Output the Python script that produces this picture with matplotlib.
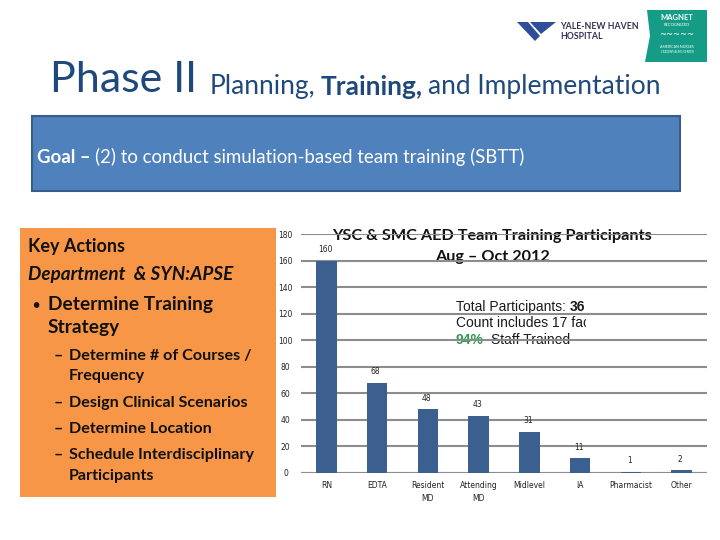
import matplotlib
matplotlib.use('Agg')
import matplotlib.pyplot as plt
from matplotlib.patches import Rectangle, Polygon
from matplotlib.transforms import Bbox, TransformedBbox

# ---------------- data ----------------
categories = ['RN', 'EDTA', 'Resident\nMD', 'Attending\nMD', 'Midlevel', 'IA', 'Pharmacist', 'Other']
participants = [160, 68, 48, 43, 31, 11, 1, 2]
y_ticks = [0, 20, 40, 60, 80, 100, 120, 140, 160, 180]
chart_title = ['YSC & SMC AED Team Training Participants', 'Aug \u2013 Oct 2012']

W, H = 720, 540
fig = plt.figure(figsize=(7.2, 5.4), dpi=100)
fig.patch.set_facecolor('white')

# background axes in pixel coordinates
bg = fig.add_axes([0, 0, 1, 1], zorder=-1)
bg.set_xlim(0, W)
bg.set_ylim(H, 0)
bg.axis('off')

CAL = ['Lato', 'DejaVu Sans']
TITLE_C = '#1F497D'


def chain(x, y, pieces, **common):
    """pieces: list of (text, dict_of_props, gap_pts)"""
    arts = []
    first = True
    prev = None
    for txt, props, gap in pieces:
        kw = dict(common)
        kw.update(props)
        if first:
            t = bg.text(x, y, txt, ha='left', va='baseline', **kw)
            first = False
        else:
            t = bg.annotate(txt, xy=(1, 0), xycoords=prev, xytext=(gap, 0),
                            textcoords='offset points', ha='left', va='bottom', **kw)
        arts.append(t)
        prev = t
    return arts


# ---------------- slide title ----------------
chain(50, 92, [
    ('Phase II', dict(fontsize=31), 0),
    ('Planning,', dict(fontsize=19), 9),
    ('Training,', dict(fontsize=19, fontweight='bold'), 4),
    ('and Implementation', dict(fontsize=19), 4),
], family=CAL, color=TITLE_C)

# ---------------- logo ----------------
for pts in ([(517, 22), (528, 22), (540, 36), (535, 41)],
            [(530, 22), (556, 22), (541, 34)],
            [(533, 26), (545, 26), (545, 30)]):
    bg.add_patch(Polygon(pts, closed=True, facecolor='#2E4E9A', edgecolor='none'))
bg.text(560, 29, 'YALE-NEW HAVEN', fontsize=6.3, fontweight='bold', family=CAL,
        color='#333355', va='baseline')
bg.text(560, 39, 'HOSPITAL', fontsize=6.3, fontweight='bold', family=CAL,
        color='#333355', va='baseline')
bg.add_patch(Polygon([(647, 10), (707, 10), (707, 62), (645, 62), (650, 36)], closed=True,
                     facecolor='#159C86', edgecolor='none'))
bg.text(677, 18, 'MAGNET', fontsize=5.5, fontweight='bold', color='white', ha='center',
        va='center', family=CAL)
bg.text(677, 25, 'RECOGNIZED', fontsize=3, color='white', ha='center', va='center', family=CAL)
bg.text(677, 35, '~~~~~', fontsize=6, color='white', ha='center', va='center')
bg.text(677, 47, 'AMERICAN NURSES', fontsize=2.6, color='white', ha='center', va='center', family=CAL)
bg.text(677, 52, 'CREDENTIALING CENTER', fontsize=2, color='white', ha='center', va='center', family=CAL)

# ---------------- goal box ----------------
bg.add_patch(Rectangle((32, 116), 648, 75, facecolor='#4F81BD', edgecolor='#385D8A', lw=1.5))
chain(37, 163, [
    ('Goal \u2013', dict(fontweight='bold'), 0),
    ('(2) to conduct simulation-based team training (SBTT)', dict(), 3),
], family=CAL, color='white', fontsize=13.4)

# ---------------- orange box ----------------
bg.add_patch(Rectangle((20, 228), 256, 269, facecolor='#F79646', edgecolor='none'))
TXT = '#111111'
bg.text(28, 252, 'Key Actions', fontsize=13, fontweight='bold', family=CAL, color=TXT, va='baseline')
bg.text(28, 280, 'Department  & SYN:APSE', fontsize=13.6, style='italic', fontweight='bold',
        family=CAL, color=TXT, va='baseline')
bg.text(32, 309, '\u2022', fontsize=9, fontweight='bold', family=CAL, color=TXT, va='baseline')
bg.text(48, 310, 'Determine Training', fontsize=13.8, fontweight='bold', family=CAL, color=TXT, va='baseline')
bg.text(48, 333, 'Strategy', fontsize=13.8, fontweight='bold', family=CAL, color=TXT, va='baseline')
sub = [(360, '\u2013', 'Determine # of Courses /'), (380, None, 'Frequency'),
       (407, '\u2013', 'Design Clinical Scenarios'), (433, '\u2013', 'Determine Location'),
       (459, '\u2013', 'Schedule Interdisciplinary'), (480, None, 'Participants')]
for yb, dash, s in sub:
    if dash:
        bg.text(54, yb, dash, fontsize=11.6, fontweight='bold', family=CAL, color=TXT, va='baseline')
    bg.text(69, yb, s, fontsize=11.6, fontweight='bold', family=CAL, color=TXT, va='baseline')

# ---------------- chart ----------------
ax = fig.add_axes([301 / W, 1 - 473 / H, (707 - 301) / W, (473 - 234) / H], zorder=0)
ax.patch.set_alpha(0)
x = list(range(len(categories)))
bars = ax.bar(x, participants, width=0.4, color='#3B6090', zorder=2)
for xi, v in zip(x, participants):
    ax.annotate(str(v), xy=(xi, v), xytext=(-1, 8), textcoords='offset points',
                ha='center', va='center', fontsize=5.5, color='#222222', family='DejaVu Sans')
ax.set_xlim(-0.5, len(categories) - 0.5)
ax.set_ylim(0, 180)
ax.set_yticks(y_ticks)
ax.set_yticklabels([str(t) for t in y_ticks], fontsize=5.5, color='#222222', ha='center')
ax.set_xticks(x)
ax.set_xticklabels(categories, fontsize=5.5, color='#222222', linespacing=1.5)
ax.tick_params(axis='y', length=0, pad=11)
ax.tick_params(axis='x', length=0, pad=6)
for s in ax.spines.values():
    s.set_visible(False)
ax.yaxis.grid(True, color='#8C8C8C', lw=1.5, zorder=0)
ax.set_axisbelow(True)
ax.axhline(0, color='#8C8C8C', lw=1.5, zorder=1)

# chart title (two lines)
for yc, line in zip([236, 257], chart_title):
    bg.text(492, yc, line, ha='center', va='center', fontsize=11.7, fontweight='bold',
            family=CAL, color='#111111')

# text box (clipped on the right like the original)
clip = TransformedBbox(Bbox([[440, 290], [586, 352]]), bg.transData)
BOX = dict(family='Liberation Sans', fontsize=10, color='#1a1a1a')
lines = [
    [('Total Participants:', dict(), 0), ('36', dict(fontweight='bold'), 3)],
    [('Count includes 17 faculty', dict(), 0)],
    [('94%', dict(fontweight='bold', color='#2E9E4F'), 0), ('Staff Trained', dict(), 5)],
]
for yb, pieces in zip([311, 327, 344], lines):
    for t in chain(456, yb, pieces, **BOX):
        t.set_clip_box(clip)
        t.set_clip_on(True)

fig.savefig('out.png', dpi=100)
